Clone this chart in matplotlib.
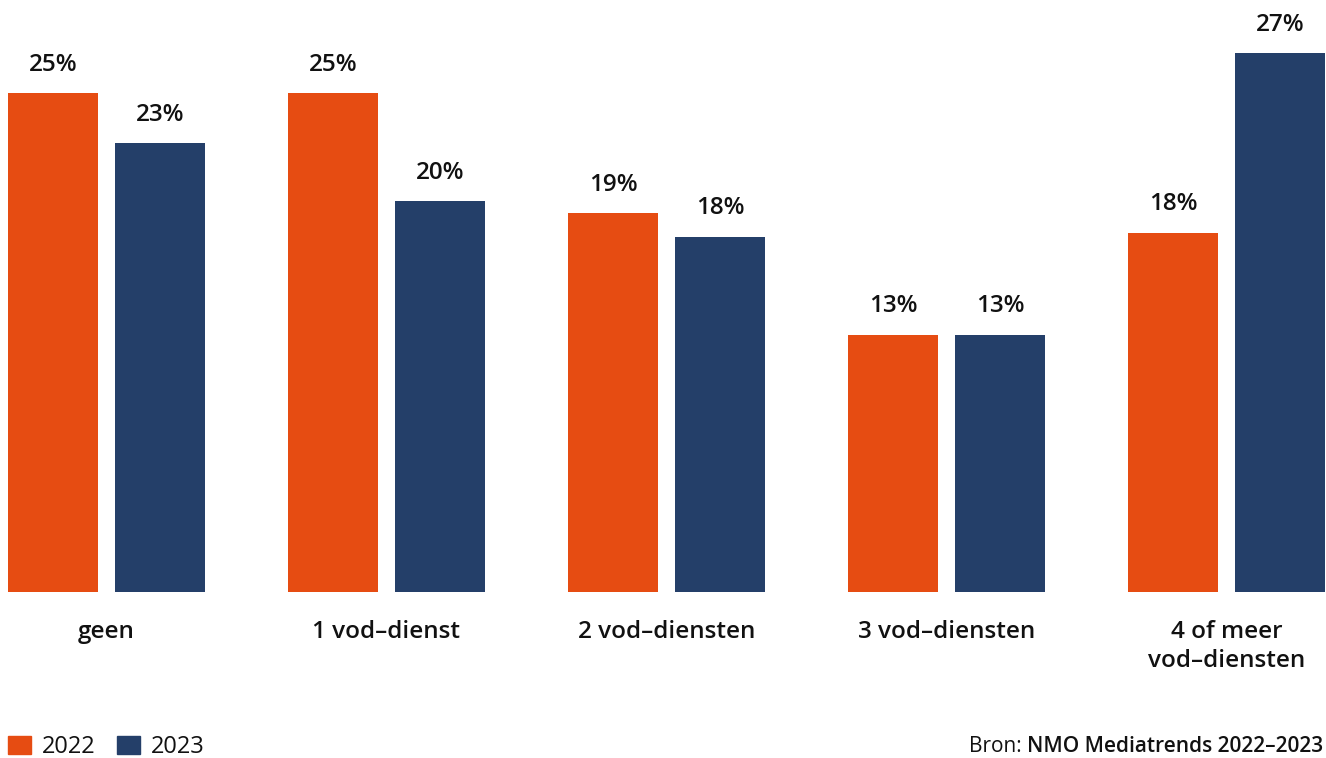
import matplotlib.pyplot as plt
from matplotlib.patches import Rectangle
import numpy as np

# --- data ---
categories = ["geen", "1 vod–dienst", "2 vod–diensten", "3 vod–diensten", "4 of meer\nvod–diensten"]
years = ["2022", "2023"]
values_2022 = [25.0, 25.0, 19.0, 12.9, 18.0]
values_2023 = [22.5, 19.6, 17.8, 12.9, 27.0]
labels_2022 = ["25%", "25%", "19%", "13%", "18%"]
labels_2023 = ["23%", "20%", "18%", "13%", "27%"]
source_prefix = "Bron: "
source_name = "NMO Mediatrends 2022–2023"

# --- style ---
ORANGE = "#E64C12"
NAVY = "#243F69"
TXT = "#111111"
W, H = 1326, 758
plt.rcParams["font.family"] = ["Open Sans", "DejaVu Sans"]

fig = plt.figure(figsize=(W / 100, H / 100), dpi=100)
# bar baseline sits 592 px from the top of the image
ax = fig.add_axes([0, (H - 592) / H, 1, 592 / H])

group_w = 280.0
bar_w = 90 / group_w
offset = 53.5 / group_w
x = np.arange(len(categories))

bars_a = ax.bar(x - offset, values_2022, width=bar_w, color=ORANGE, label=years[0])
bars_b = ax.bar(x + offset, values_2023, width=bar_w, color=NAVY, label=years[1])

ax.set_xlim(-106.5 / group_w, (W - 106.5) / group_w)
ax.set_ylim(0, 592 / 19.96)
ax.axis("off")

for bars, labs in ((bars_a, labels_2022), (bars_b, labels_2023)):
    for b, lab in zip(bars, labs):
        ax.annotate(lab, xy=(b.get_x() + b.get_width() / 2, b.get_height()),
                    xytext=(0, 16), textcoords="offset points",
                    ha="center", va="baseline", fontsize=17.5, fontweight="semibold",
                    color=TXT)

for xi, cat in zip(x, categories):
    ax.annotate(cat, xy=(xi, 0), xytext=(0, -20), textcoords="offset points",
                ha="center", va="top", fontsize=17.5, fontweight="semibold",
                color=TXT, linespacing=1.3, annotation_clip=False)

# legend: squares + year text
for i, (yr, col) in enumerate(zip(years, [ORANGE, NAVY])):
    x0 = 8 + i * 109
    fig.add_artist(Rectangle((x0 / W, 1 - 754 / H), 23 / W, 18 / H,
                             transform=fig.transFigure, color=col))
    fig.text((x0 + 34) / W, 1 - 753 / H, yr, fontsize=17, color=TXT,
             ha="left", va="baseline")

# source, right aligned: regular prefix + bold name
src = fig.text(1323 / W, 1 - 752 / H, source_name, fontsize=15, fontweight="semibold",
               color=TXT, ha="right", va="baseline")
plt.annotate(source_prefix, xy=(0, 0), xycoords=src, xytext=(0, 0),
             textcoords="offset points", ha="right", va="bottom",
             fontsize=15, color=TXT)

fig.savefig("out.png", dpi=100)
